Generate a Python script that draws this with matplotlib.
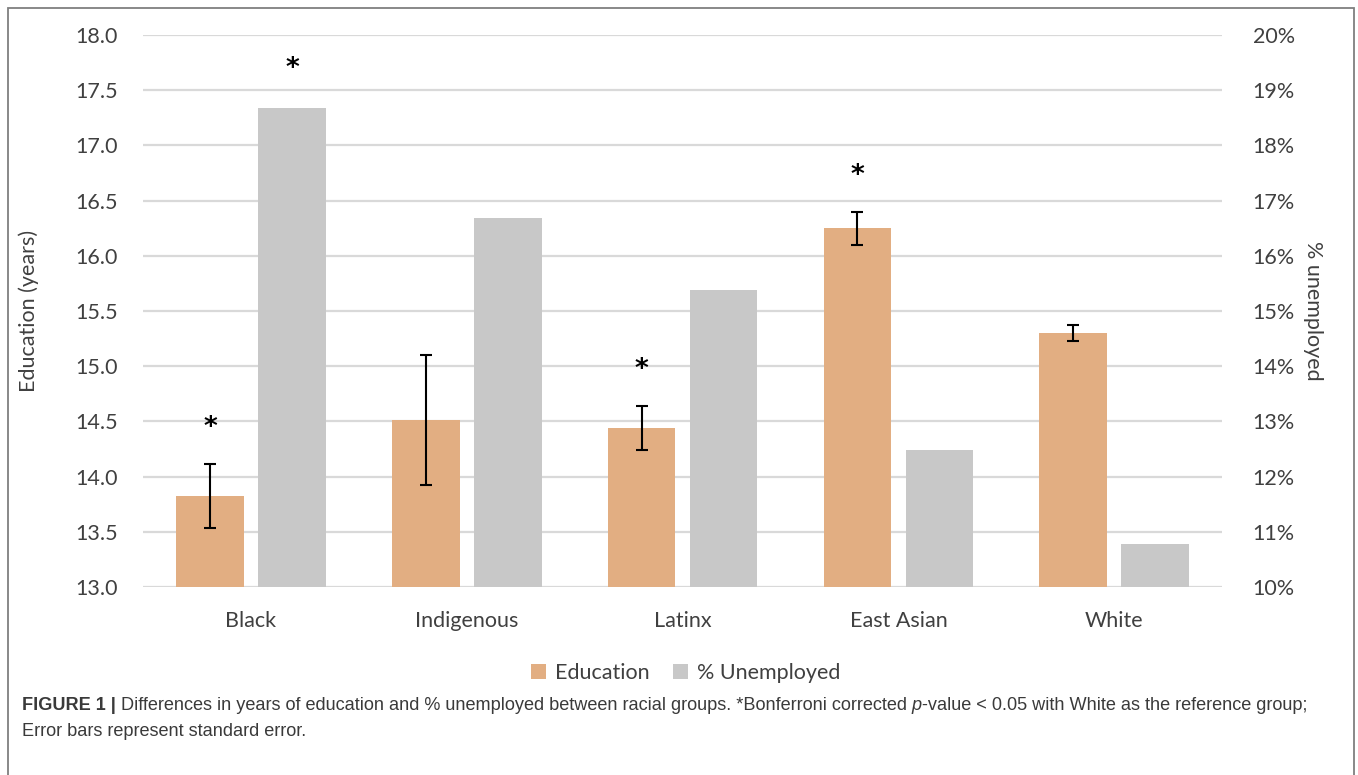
import numpy as np
import matplotlib.pyplot as plt
from matplotlib.patches import Rectangle

# Data
groups = ['Black', 'Indigenous', 'Latinx', 'East Asian', 'White']
education = [13.82, 14.51, 14.44, 16.25, 15.30]
education_se = [0.29, 0.59, 0.20, 0.15, 0.07]
unemployed = [18.68, 16.68, 15.38, 12.48, 10.78]
edu_signif = [True, False, True, True, False]
unemp_signif = [True, False, False, False, False]

edu_color = '#e2ae82'
unemp_color = '#c8c8c8'
text_color = '#404040'
plt.rcParams['font.family'] = ['Lato', 'DejaVu Sans']

fig = plt.figure(figsize=(13.58, 7.75), dpi=100)
ax = fig.add_axes([0.1053, 0.2426, 0.7947, 0.7122])
ax2 = ax.twinx()

x = np.arange(len(groups))
w = 0.314
off = 0.19

ax.bar(x - off, education, w, color=edu_color, zorder=3, label='Education')
ax.errorbar(x - off, education, yerr=education_se, fmt='none', ecolor='black',
            elinewidth=1.5, capsize=4.5, capthick=1.5, zorder=4)
ax2.bar(x + off, unemployed, w, color=unemp_color, zorder=3, label='% Unemployed')

# significance asterisks
star = dict(textcoords='offset points', ha='center', va='center', fontsize=19,
            family='DejaVu Sans', fontweight='bold')
for i in range(len(groups)):
    if edu_signif[i]:
        ax.annotate('*', (x[i] - off, education[i] + education_se[i]), xytext=(0, 26), **star)
    if unemp_signif[i]:
        ax2.annotate('*', (x[i] + off, unemployed[i]), xytext=(0, 28), **star)

ax.set_xlim(-0.5, 4.5)
ax.set_ylim(13, 18)
ax.set_yticks(np.arange(13, 18.01, 0.5))
ax.set_yticklabels(['%.1f' % v for v in np.arange(13, 18.01, 0.5)])
ax2.set_ylim(10, 20)
ax2.set_yticks(np.arange(10, 21, 1))
ax2.set_yticklabels(['%d%%' % v for v in np.arange(10, 21, 1)])
ax.set_xticks(x)
ax.set_xticklabels(groups)

ax.yaxis.grid(True, color='#d9d9d9', lw=1.6, zorder=0)
ax.set_axisbelow(True)
for a in (ax, ax2):
    for s in a.spines.values():
        s.set_visible(False)
    a.tick_params(length=0, labelsize=15.5, colors=text_color)
ax.tick_params(axis='y', pad=18)
ax2.tick_params(axis='y', pad=22)
ax.tick_params(axis='x', pad=17)
ax.set_ylabel('Education (years)', fontsize=15.5, color=text_color, labelpad=26)
ax2.set_ylabel('% unemployed', fontsize=15.5, color=text_color, rotation=270, labelpad=20)

h1, l1 = ax.get_legend_handles_labels()
h2, l2 = ax2.get_legend_handles_labels()
fig.legend(h1 + h2, l1 + l2, loc='center', bbox_to_anchor=(0.505, 0.131), ncol=2,
           frameon=False, fontsize=15.5, handlelength=0.7, handleheight=0.7,
           handletextpad=0.4, columnspacing=1.1, labelcolor=text_color)

# outer frame
fig.patches.append(Rectangle((8 / 1358, -0.05), 1346 / 1358, 1.05 - 8 / 775,
                             transform=fig.transFigure, fill=False,
                             edgecolor='#7f7f7f', lw=1.3))

# caption with mixed styles
cap_font = ['Liberation Sans', 'DejaVu Sans']
pieces = [('FIGURE 1 | ', 'bold', 'normal'),
          ('Differences in years of education and % unemployed between racial groups. '
           '*Bonferroni corrected ', 'normal', 'normal'),
          ('p', 'normal', 'italic'),
          ('-value < 0.05 with White as the reference group;', 'normal', 'normal')]
fig.canvas.draw()
renderer = fig.canvas.get_renderer()
xpos = 22 / 1358
for txt, wgt, sty in pieces:
    t = fig.text(xpos, 1 - 705 / 775, txt, fontsize=13.1, family=cap_font,
                 weight=wgt, style=sty, color='#3a3a3a', va='center', ha='left')
    bb = t.get_window_extent(renderer)
    xpos = bb.x1 / fig.bbox.width
fig.text(22 / 1358, 1 - 731 / 775, 'Error bars represent standard error.', fontsize=13.1,
         family=cap_font, color='#3a3a3a', va='center', ha='left')

fig.savefig('out.png', dpi=100)
